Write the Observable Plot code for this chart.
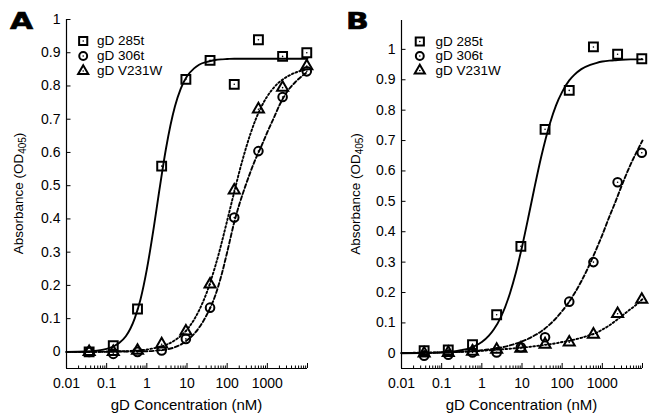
<!DOCTYPE html>
<html>
<head>
<meta charset="utf-8">
<script src="https://cdn.jsdelivr.net/npm/d3@7"></script>
<script src="https://cdn.jsdelivr.net/npm/@observablehq/plot@0.6"></script>
<style>
  html, body { margin: 0; padding: 0; background: #fff; overflow: hidden; }
  #fig { position: relative; width: 650px; height: 418px; }
  #fig > svg { position: absolute; top: 0; }
  #overlay { position: absolute; left: 0; top: 0; pointer-events: none; }
</style>
</head>
<body>
<div id="fig"></div>
<script>
// ---------- data ----------
const conc = [0.0366, 0.146, 0.586, 2.34, 9.38, 37.5, 150, 600, 2400, 9600];
const seriesNames = ["gD 285t", "gD 306t", "gD V231W"];

// Panel A measured absorbance
const a285t  = [0.000, 0.019, 0.129, 0.559, 0.820, 0.877, 0.805, 0.939, 0.889, 0.900];
const a306t  = [0.000, -0.006, 0.000, 0.004, 0.039, 0.133, 0.404, 0.604, 0.767, 0.844];
const aV231W = [0.000, 0.000, 0.004, 0.023, 0.062, 0.203, 0.486, 0.730, 0.795, 0.860];

// Panel B measured absorbance
const b285t  = [0.009, 0.011, 0.028, 0.127, 0.352, 0.737, 0.865, 1.008, 0.984, 0.969];
const b306t  = [-0.008, -0.005, 0.003, 0.003, 0.020, 0.053, 0.170, 0.300, 0.563, 0.660];
const bV231W = [0.000, 0.002, 0.006, 0.012, 0.016, 0.029, 0.036, 0.062, 0.130, 0.177];

// fitted curves
const fitX = [0.01, 0.03, 0.1, 0.2, 0.3, 0.5, 0.7, 1, 1.5, 2,
              3, 5, 7, 10, 15, 20, 30, 50, 70, 100,
              150, 200, 300, 500, 700, 1000, 1500, 2000, 3000, 5000, 7000, 10000];
const fitA285t  = [0.000,0.001,0.009,0.026,0.047,0.101,0.159,0.248,0.377,0.478,
                   0.612,0.738,0.792,0.829,0.853,0.864,0.872,0.878,0.880,0.881,
                   0.882,0.882,0.882,0.882,0.882,0.882,0.882,0.882,0.882,0.882,0.882,0.882];
const fitA306t  = [0.000,0.000,0.000,0.001,0.001,0.001,0.002,0.002,0.003,0.005,
                   0.007,0.014,0.022,0.035,0.054,0.073,0.108,0.168,0.225,0.300,
                   0.390,0.443,0.507,0.578,0.617,0.661,0.708,0.742,0.780,0.812,0.828,0.843];
const fitAV231W = [0.000,0.000,0.001,0.002,0.002,0.004,0.005,0.007,0.011,0.014,
                   0.021,0.035,0.048,0.067,0.097,0.125,0.174,0.256,0.320,0.395,
                   0.481,0.541,0.617,0.696,0.736,0.769,0.797,0.812,0.827,0.840,0.846,0.850];
const fitB285t  = [0.000,0.001,0.003,0.006,0.010,0.017,0.025,0.037,0.058,0.079,
                   0.120,0.197,0.264,0.350,0.459,0.539,0.646,0.758,0.815,0.860,
                   0.898,0.916,0.935,0.949,0.955,0.960,0.963,0.964,0.966,0.967,0.967,0.967];
const fitB306t  = [0.001,0.001,0.003,0.004,0.005,0.007,0.008,0.010,0.013,0.015,
                   0.019,0.026,0.032,0.039,0.049,0.058,0.072,0.096,0.115,0.139,
                   0.170,0.196,0.237,0.297,0.341,0.390,0.450,0.490,0.550,0.620,0.660,0.700];
const fitBV231W = [0.001,0.002,0.003,0.004,0.005,0.006,0.007,0.008,0.010,0.011,
                   0.013,0.015,0.017,0.019,0.021,0.023,0.026,0.030,0.033,0.037,
                   0.041,0.045,0.051,0.060,0.067,0.078,0.092,0.104,0.122,0.145,0.160,0.178];

// axes
const xDomain = [0.01, 10000];
const xLabelTicks = [0.01, 0.1, 1, 10, 100, 1000];
const xMajorTicks = [0.01, 0.1, 1, 10, 100, 1000, 10000];
const xMinorMult = [2, 3, 4, 5, 6, 7, 8, 9];
const yTicks = [0, 0.1, 0.2, 0.3, 0.4, 0.5, 0.6, 0.7, 0.8, 0.9, 1];
const yDomainA = [-0.05, 1];
const yDomainB = [-0.05, 1.095];

// ---------- drawing ----------
const FONT = "'Liberation Sans', Arial, Helvetica, sans-serif";
const symbols = ["square", "circle", "triangle"];
const symR = [5, 4.3, 4.1];
const dashes = [null, "4,2.4", "1.7,2.3"];
const xMinorTicks = xMajorTicks.slice(0, -1).flatMap(d => xMinorMult.map(m => d * m));

function panel({width, marginRight, marginTop, yDomain, pts, fits, legDx, legDy, txtDx}) {
  const marginLeft = 66, marginBottom = 50, height = 418;
  const plotW = width - marginLeft - marginRight;
  const plotH = height - marginTop - marginBottom;
  const marks = [
    Plot.ruleX(xMinorTicks, {x: d => d, insetTop: plotH - 2.5, stroke: "#000", strokeWidth: 1}),
    Plot.ruleX(xMajorTicks, {x: d => d, insetTop: plotH - 5, stroke: "#000", strokeWidth: 1}),
    Plot.ruleY(yTicks, {y: d => d, insetRight: plotW - 4.5, stroke: "#000", strokeWidth: 1}),
    Plot.ruleX([xDomain[0]], {stroke: "#000", strokeWidth: 1.2}),
    Plot.ruleY([yDomain[0]], {stroke: "#000", strokeWidth: 1.2}),
    Plot.axisX({ticks: xLabelTicks, tickSize: 0, tickPadding: 10, tickFormat: d => String(d), label: null, fontSize: 14}),
    Plot.axisY({ticks: yTicks, tickSize: 0, tickPadding: 6, tickFormat: d => String(+d.toFixed(1)), label: null, fontSize: 14})
  ];
  fits.forEach((f, i) => {
    const data = fitX.map((x, j) => ({x, y: f[j]}));
    marks.push(Plot.line(data, {x: "x", y: "y", curve: "monotone-x", stroke: "#000",
      strokeWidth: 1.9, strokeDasharray: dashes[i]}));
  });
  pts.forEach((p, i) => {
    const data = conc.map((x, j) => ({x, y: p[j]}));
    marks.push(Plot.dot(data, {x: "x", y: "y", symbol: symbols[i], r: symR[i], stroke: "#000", strokeWidth: 2, fill: "none"}));
    marks.push(Plot.dot(data, {x: "x", y: "y", r: 0.8, fill: "#000"}));
  });
  seriesNames.forEach((name, i) => {
    marks.push(Plot.dot([name], {frameAnchor: "top-left", dx: legDx, dy: legDy[i], symbol: symbols[i], r: symR[i] * 0.92, stroke: "#000", strokeWidth: 2, fill: "none"}));
    marks.push(Plot.dot([name], {frameAnchor: "top-left", dx: legDx, dy: legDy[i], r: 0.8, fill: "#000"}));
    marks.push(Plot.text([name], {frameAnchor: "top-left", dx: txtDx, dy: legDy[i], text: d => d, textAnchor: "start", lineAnchor: "middle", fontSize: 13.5, fill: "#000"}));
  });
  return Plot.plot({
    width, height, marginLeft, marginRight, marginTop, marginBottom,
    x: {type: "log", domain: xDomain},
    y: {domain: yDomain},
    style: {fontFamily: FONT, fontSize: "14px", color: "#000", background: "transparent", overflow: "visible"},
    marks
  });
}

const fig = document.getElementById("fig");
const pa = panel({width: 325, marginRight: 18, marginTop: 19, yDomain: yDomainA,
  pts: [a285t, a306t, aV231W], fits: [fitA285t, fitA306t, fitAV231W],
  legDx: 16.7, legDy: [21.5, 36.5, 51.5], txtDx: 30.5});
pa.style.left = "0px";
fig.appendChild(pa);
const pb = panel({width: 315, marginRight: 8, marginTop: 20, yDomain: yDomainB,
  pts: [b285t, b306t, bV231W], fits: [fitB285t, fitB306t, fitBV231W],
  legDx: 18.3, legDy: [21, 35.5, 50], txtDx: 34});
pb.style.left = "335px";
fig.appendChild(pb);

// overlay: panel letters and axis titles
const ov = d3.select(fig).append("svg").attr("id", "overlay")
  .attr("width", 650).attr("height", 418)
  .style("font-family", FONT);
[["A", 10, 29], ["B", 346, 29]].forEach(([t, x, y]) => {
  ov.append("text").text(t)
    .attr("transform", `translate(${x},${y}) scale(1.3,1)`)
    .attr("font-family", "'DejaVu Sans', sans-serif")
    .attr("font-weight", "bold").attr("font-size", 23)
    .attr("stroke", "#000").attr("stroke-width", 0.6).attr("fill", "#000");
});
[[23, 193.5], [360, 194]].forEach(([x, y]) => {
  const t = ov.append("text").attr("transform", `translate(${x},${y}) rotate(-90)`)
    .attr("text-anchor", "middle").attr("font-size", 13.5).attr("fill", "#000");
  t.append("tspan").text("Absorbance (OD");
  t.append("tspan").attr("font-size", 10).attr("dy", 3).text("405");
  t.append("tspan").attr("dy", -3).text(")");
});
[[186.5, 410], [521.5, 410]].forEach(([x, y]) => {
  ov.append("text").attr("x", x).attr("y", y).attr("text-anchor", "middle")
    .attr("font-size", 15).attr("fill", "#000").text("gD Concentration (nM)");
});
</script>
</body>
</html>
